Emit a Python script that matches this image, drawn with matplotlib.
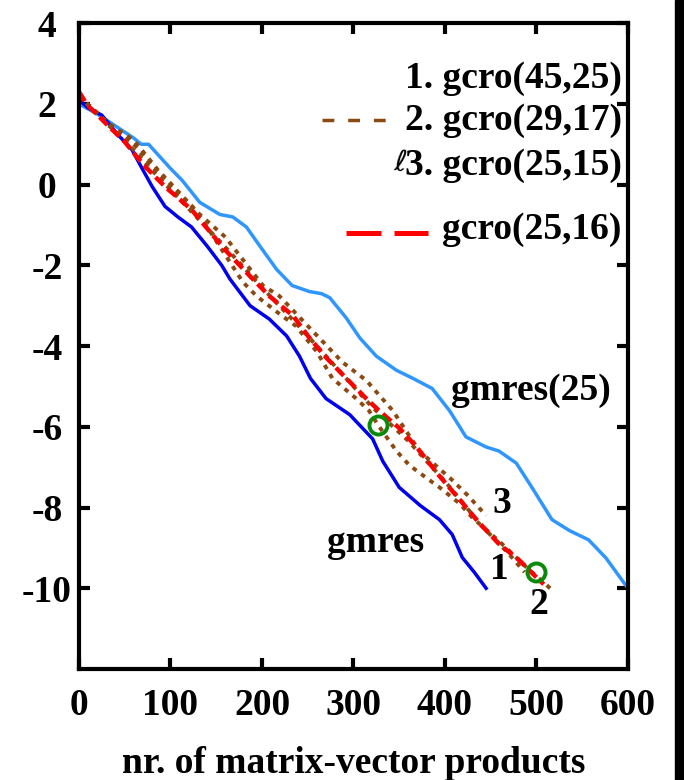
import matplotlib
matplotlib.use("Agg")
import matplotlib.pyplot as plt
from matplotlib.patches import Rectangle
from matplotlib.lines import Line2D

plt.rcParams['font.family'] = ['Liberation Serif', 'DejaVu Sans']
plt.rcParams['font.weight'] = 'bold'
plt.rcParams['axes.unicode_minus'] = False

# ---- data ----
gmres25_x = [0, 20, 40, 60, 68, 76, 88, 100, 113, 132, 154, 168, 183, 197, 216, 233, 252, 265, 274, 292,
             307, 325, 347, 365, 386, 405, 423, 445, 459, 478, 495, 517, 536, 557, 576, 600]
gmres25_y = [2.0, 1.75, 1.45, 1.15, 1.0, 1.0, 0.7, 0.4, 0.1, -0.44, -0.74, -0.8, -1.05, -1.5, -2.1, -2.5,
             -2.65, -2.7, -2.8, -3.3, -3.8, -4.25, -4.6, -4.8, -5.05, -5.6, -6.25, -6.5, -6.6, -6.9, -7.5,
             -8.3, -8.57, -8.8, -9.25, -10.0]

gmres_x = [0, 10, 25, 42, 58, 68, 80, 94, 108, 123, 141, 156, 165, 187, 208, 227, 241, 253, 270, 296,
           321, 332, 350, 373, 394, 408, 419, 432, 445]
gmres_y = [2.1, 1.9, 1.72, 1.25, 0.86, 0.44, -0.05, -0.54, -0.8, -1.05, -1.55, -2.0, -2.34, -3.0, -3.33,
           -3.75, -4.25, -4.8, -5.3, -5.7, -6.3, -6.85, -7.5, -7.95, -8.3, -8.67, -9.24, -9.6, -10.0]

gcro16_x = [0, 9, 17, 30, 50, 70, 94, 123, 159, 187, 208, 234, 252, 270, 290, 314, 328, 350, 369, 394,
            416, 437, 459, 481, 500, 508]
gcro16_y = [2.3, 1.97, 1.8, 1.5, 1.06, 0.5, -0.05, -0.62, -1.6, -2.27, -2.76, -3.25, -3.8, -4.28, -4.75,
            -5.3, -5.6, -6.03, -6.5, -7.22, -7.8, -8.37, -8.9, -9.3, -9.73, -9.9]

gcro1_x = [0, 40, 80, 120, 160, 200, 240, 280, 320, 360, 400, 440, 470, 487]
gcro1_y = [2.2, 1.35, 0.35, -0.6, -1.55, -2.55, -3.5, -4.5, -5.5, -6.35, -7.35, -8.45, -9.15, -9.6]

gcro2_x = [0, 30, 60, 90, 130, 179, 194, 219, 237, 260, 277, 303, 317, 327, 347, 361, 380, 394, 416,
           430, 460, 490, 515]
gcro2_y = [2.2, 1.5, 1.0, 0.2, -0.7, -2.41, -2.76, -3.2, -3.5, -4.14, -4.8, -5.3, -5.6, -5.96, -6.6,
           -6.95, -7.27, -7.5, -7.9, -8.25, -8.85, -9.5, -10.0]

gcro3_x = [0, 30, 60, 86, 132, 160, 201, 219, 250, 288, 314, 343, 372, 407, 425, 445]
gcro3_y = [2.2, 1.55, 1.1, 0.37, -0.74, -1.3, -2.5, -2.76, -3.5, -4.4, -4.85, -5.6, -6.6, -7.3, -7.7, -8.2]

circle_x = [327, 500]
circle_y = [-5.96, -9.6]

xticks = [0, 100, 200, 300, 400, 500, 600]
yticks = [-10, -8, -6, -4, -2, 0, 2, 4]

legend_labels = ["1. gcro(45,25)", "2. gcro(29,17)", "3. gcro(25,15)", "gcro(25,16)"]

# ---- colours ----
c_lblue = "#2f96ff"
c_blue = "#0000ee"
c_red = "#ff0000"
c_brown = "#8b4a12"
c_green = "#0a8a0a"

fig = plt.figure(figsize=(6.84, 7.8), dpi=100)
ax = fig.add_axes([0.1155, 0.1423, 0.8025, 0.828])

ax.plot(gmres25_x, gmres25_y, color=c_lblue, lw=2.5)
ax.plot(gmres_x, gmres_y, color=c_blue, lw=2.5)
for bx, by in [(gcro1_x, gcro1_y), (gcro2_x, gcro2_y), (gcro3_x, gcro3_y)]:
    ax.plot(bx, by, color=c_brown, lw=2.8, ls=(0, (1.2, 1.5)))
ax.plot(gcro16_x, gcro16_y, color=c_red, lw=3.2, ls=(0, (2.5, 1.2)))
ax.plot(circle_x, circle_y, ls='none', marker='o', ms=13, mfc='none', mec=c_green, mew=2.8)

ax.set_xlim(0, 600)
ax.set_ylim(-12, 4)
ax.set_xticks(xticks)
ax.set_yticks(yticks)
ax.tick_params(direction='in', length=8, width=3, top=True, right=True,
               labelsize=27, pad=14)
ax.tick_params(axis='y', pad=23)
for lbl in ax.get_yticklabels():
    lbl.set_horizontalalignment('center')
for s in ax.spines.values():
    s.set_linewidth(3)
ax.set_xlabel("nr. of matrix-vector products", fontsize=27, fontweight='bold', labelpad=16)

# annotation labels
ax.text(494, -5.1, "gmres(25)", fontsize=27, ha='center', va='center')
ax.text(324, -8.87, "gmres", fontsize=27, ha='center', va='center')
ax.text(462, -7.9, "3", fontsize=27, ha='center', va='center')
ax.text(460, -9.53, "1", fontsize=27, ha='center', va='center')
ax.text(503, -10.4, "2", fontsize=27, ha='center', va='center')

# legend (drawn manually)
ty = [0.915, 0.85, 0.780, 0.680]
for lab, yy in zip(legend_labels, ty):
    ax.text(0.989, yy, lab, transform=ax.transAxes, fontsize=27, ha='right', va='center')
ax.add_line(Line2D([0.4426, 0.5592], [0.85, 0.85], transform=ax.transAxes, color=c_brown,
                   lw=2.5, ls=(0, (3.4, 4.0))))
ax.add_line(Line2D([0.4863, 0.6357], [0.675, 0.675], transform=ax.transAxes, color=c_red,
                   lw=3.6, ls=(0, (7.0, 2.6))))
ax.text(0.585, 0.785, "ℓ", transform=ax.transAxes, fontsize=21, ha='center', va='center',
        family=['DejaVu Sans'], fontweight='normal', rotation=-6)

# black bar at right edge
fig.patches.append(Rectangle((675 / 684, 0), 9 / 684, 1, transform=fig.transFigure,
                             color='black', zorder=10))

fig.savefig("out.png", dpi=100)
